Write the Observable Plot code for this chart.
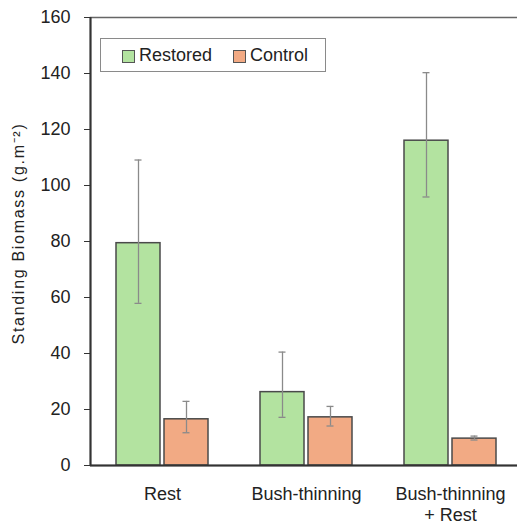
<!DOCTYPE html>
<html>
<head>
<meta charset="utf-8">
<script src="https://cdn.jsdelivr.net/npm/d3@7"></script>
<script src="https://cdn.jsdelivr.net/npm/@observablehq/plot@0.6"></script>
<style>
  html, body { margin: 0; padding: 0; background: #fff; overflow: hidden; }
  #wrap { position: relative; width: 522px; height: 524px; font-family: "Liberation Sans", Arial, sans-serif; }
  #legend { position: absolute; left: 100px; top: 38px; width: 224px; height: 32px; border: 1.5px solid #8a8a8a; background: #fff; box-sizing: content-box; }
  .item { position: absolute; top: 0; height: 32px; line-height: 32px; font-size: 18px; color: #222; }
  .sw { position: absolute; top: 11px; width: 11px; height: 11px; border: 1px solid #555; }
  .ylabel text { letter-spacing: 1.7px; }
</style>
</head>
<body>
<div id="wrap">
  <div id="chart"></div>
  <div id="legend"></div>
</div>
<script>
const categories = ["Rest", "Bush-thinning", "Bush-thinning\n+ Rest"];
const series = ["Restored", "Control"];
const restoredMean = [79.4, 26.2, 116.0];
const restoredLow = [57.9, 17.2, 95.9];
const restoredHigh = [109.1, 40.5, 140.3];
const controlMean = [16.5, 17.2, 9.6];
const controlLow = [11.7, 14.1, 9.1];
const controlHigh = [22.9, 21.1, 10.5];
const yTicks = [0, 20, 40, 60, 80, 100, 120, 140, 160];
const colors = ["#b3e3a0", "#f2aa84"];
const yLabel = "Standing Biomass (g.m\u207B\u00B2)";

const rows = categories.map((c, i) => ({
  category: c,
  restored: restoredMean[i], rLow: restoredLow[i], rHigh: restoredHigh[i],
  control: controlMean[i], cLow: controlLow[i], cHigh: controlHigh[i]
}));

const errStroke = "#8a8a8a";
const chart = Plot.plot({
  width: 522,
  height: 524,
  marginLeft: 90,
  marginRight: 0,
  marginTop: 17,
  marginBottom: 59,
  style: { fontFamily: "'Liberation Sans', Arial, sans-serif", color: "#222", background: "#fff" },
  x: { domain: categories, padding: 0 },
  y: { domain: [0, 160] },
  marks: [
    Plot.frame({ stroke: "#666", strokeWidth: 1.5 }),
    Plot.barY(rows, { x: "category", y: "restored", fill: colors[0], stroke: "#4a4a4a", strokeWidth: 1.5, insetLeft: 26, insetRight: 74 }),
    Plot.barY(rows, { x: "category", y: "control", fill: colors[1], stroke: "#4a4a4a", strokeWidth: 1.5, insetLeft: 74, insetRight: 26 }),
    Plot.ruleX(rows, { x: "category", y1: "rLow", y2: "rHigh", dx: -24, stroke: errStroke, strokeWidth: 1.3 }),
    Plot.tickY(rows, { x: "category", y: "rLow", insetLeft: 44.5, insetRight: 92.5, stroke: errStroke, strokeWidth: 1.3 }),
    Plot.tickY(rows, { x: "category", y: "rHigh", insetLeft: 44.5, insetRight: 92.5, stroke: errStroke, strokeWidth: 1.3 }),
    Plot.ruleX(rows, { x: "category", y1: "cLow", y2: "cHigh", dx: 24, stroke: errStroke, strokeWidth: 1.3 }),
    Plot.tickY(rows, { x: "category", y: "cLow", insetLeft: 92.5, insetRight: 44.5, stroke: errStroke, strokeWidth: 1.3 }),
    Plot.tickY(rows, { x: "category", y: "cHigh", insetLeft: 92.5, insetRight: 44.5, stroke: errStroke, strokeWidth: 1.3 }),
    Plot.ruleY([0], { stroke: "#333", strokeWidth: 2 }),
    Plot.ruleX([0], { x: () => categories[0], dx: -72, y1: 0, y2: 160, stroke: "#333", strokeWidth: 2 }),
    Plot.axisY({ ticks: yTicks, tickSize: 6, tickPadding: 14, fontSize: 18, label: null, stroke: "#333" }),
    Plot.axisX({ tickSize: 0, tickPadding: 19, fontSize: 18, label: null, lineHeight: 1.2 }),
    Plot.text([yLabel], { frameAnchor: "left", textAnchor: "middle", rotate: -90, dx: -72, dy: -8, fontSize: 16, fill: "#222", className: "ylabel" })
  ]
});
document.getElementById("chart").appendChild(chart);
// fallback in case className is not supported
chart.querySelectorAll("text").forEach(t => {
  if (t.textContent === yLabel) t.style.letterSpacing = "1.7px";
});

const legend = document.getElementById("legend");
const legendLeft = [21, 132];
series.forEach((s, i) => {
  const sw = document.createElement("div");
  sw.className = "sw";
  sw.style.left = legendLeft[i] + "px";
  sw.style.background = colors[i];
  legend.appendChild(sw);
  const t = document.createElement("div");
  t.className = "item";
  t.style.left = (legendLeft[i] + 17) + "px";
  t.textContent = s;
  legend.appendChild(t);
});
</script>
</body>
</html>
